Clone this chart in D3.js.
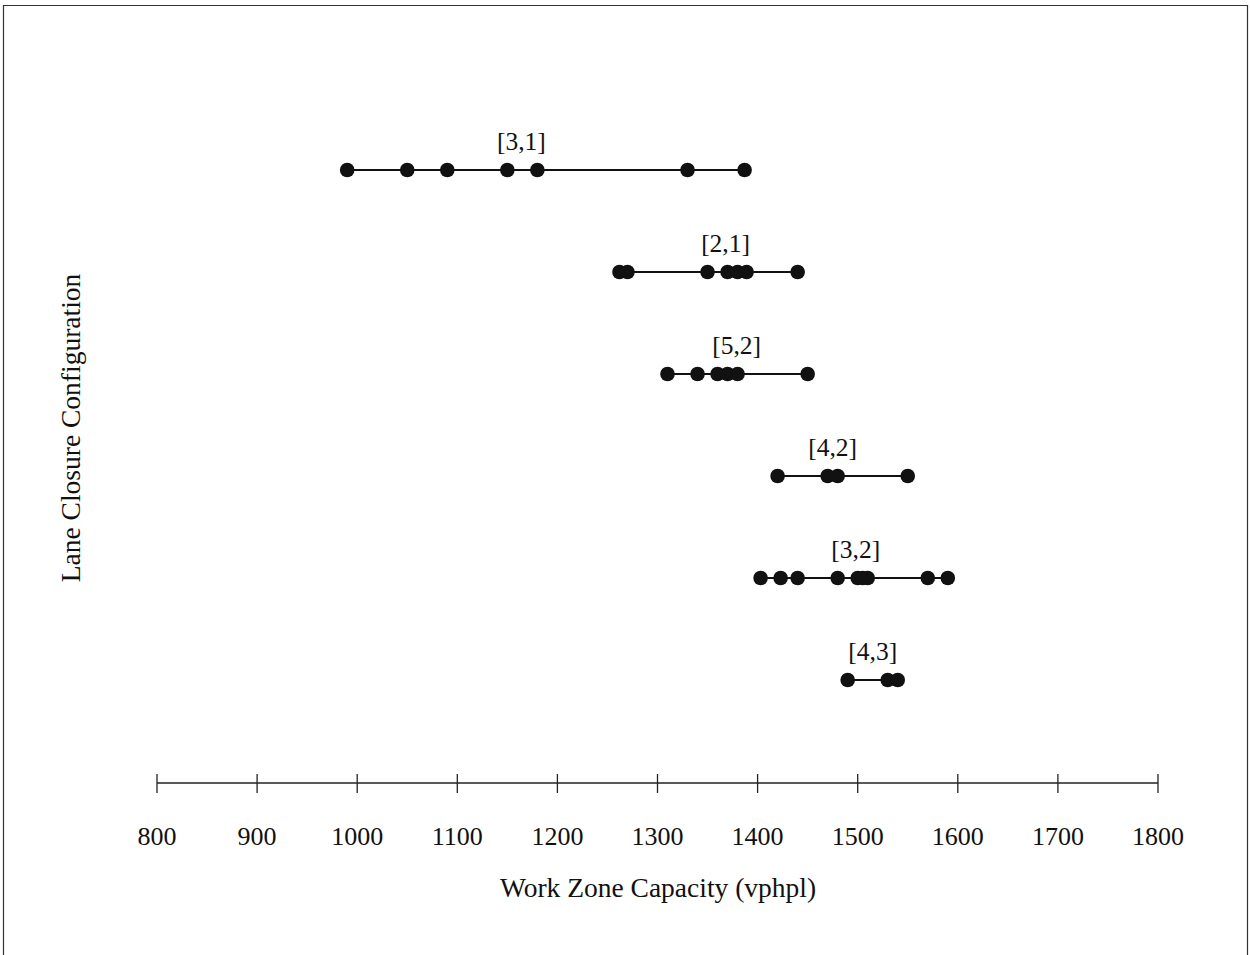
<!DOCTYPE html>
<html>
<head>
<meta charset="utf-8">
<script src="https://cdn.jsdelivr.net/npm/d3@7"></script>
<style>
  html, body { margin: 0; padding: 0; background: #fff; }
  svg { display: block; }
</style>
</head>
<body>
<script>
// lane closure configurations, top to bottom
const configs = ["[3,1]", "[2,1]", "[5,2]", "[4,2]", "[3,2]", "[4,3]"];

// observed work zone capacities (vphpl) for each configuration
const cap31 = [990, 1050, 1090, 1150, 1180, 1330, 1387];
const cap21 = [1262, 1270, 1350, 1370, 1380, 1389, 1440];
const cap52 = [1310, 1340, 1360, 1370, 1380, 1450];
const cap42 = [1420, 1470, 1480, 1550];
const cap32 = [1403, 1423, 1440, 1480, 1500, 1505, 1510, 1570, 1590];
const cap43 = [1490, 1530, 1540];

// where each configuration label sits along the capacity axis
const labelAt = [1164, 1368, 1379, 1475, 1498, 1515];

const xTicks = [800, 900, 1000, 1100, 1200, 1300, 1400, 1500, 1600, 1700, 1800];

const series = [cap31, cap21, cap52, cap42, cap32, cap43];
const rows = configs.map((name, i) => ({name, values: series[i], label: labelAt[i]}));

const width = 1250, height = 955;
const font = "'Liberation Serif', 'Times New Roman', serif";

const x = d3.scaleLinear().domain([800, 1800]).range([157, 1158]);
const y = d3.scalePoint().domain(configs).range([170, 680]);

const svg = d3.select("body").append("svg")
    .attr("width", width)
    .attr("height", height)
    .attr("font-family", font)
    .attr("fill", "#111");

// page frame (scanned figure border)
svg.append("path")
    .attr("d", `M3.5,${height} V5.5 H1247.5 V${height}`)
    .attr("fill", "none")
    .attr("stroke", "#333")
    .attr("stroke-width", 1.2);

// x axis with ticks crossing the line
const axisY = 783;
const axis = svg.append("g").attr("transform", `translate(0,${axisY})`);
axis.append("line")
    .attr("x1", x(800)).attr("x2", x(1800))
    .attr("stroke", "#222").attr("stroke-width", 1.3);
axis.selectAll(".tick")
    .data(xTicks)
    .join("line")
    .attr("x1", d => x(d)).attr("x2", d => x(d))
    .attr("y1", -9).attr("y2", 10)
    .attr("stroke", "#222").attr("stroke-width", 1.3);
axis.selectAll(".tl")
    .data(xTicks)
    .join("text")
    .attr("x", d => x(d))
    .attr("y", 62)
    .attr("text-anchor", "middle")
    .attr("font-size", 26)
    .text(d => d);

svg.append("text")
    .attr("x", x(1300) + 0.5)
    .attr("y", 897)
    .attr("text-anchor", "middle")
    .attr("font-size", 27.5)
    .text("Work Zone Capacity (vphpl)");

svg.append("text")
    .attr("transform", `translate(80,${428}) rotate(-90)`)
    .attr("text-anchor", "middle")
    .attr("font-size", 27.5)
    .text("Lane Closure Configuration");

// one row per configuration: range line, dots, label
const row = svg.selectAll(".row")
    .data(rows)
    .join("g")
    .attr("transform", d => `translate(0,${y(d.name)})`);

row.append("line")
    .attr("x1", d => x(d3.min(d.values)))
    .attr("x2", d => x(d3.max(d.values)))
    .attr("stroke", "#111")
    .attr("stroke-width", 2.2);

row.selectAll("circle")
    .data(d => d.values)
    .join("circle")
    .attr("cx", d => x(d))
    .attr("r", 7.3)
    .attr("fill", "#111");

row.append("text")
    .attr("x", d => x(d.label))
    .attr("y", -20)
    .attr("text-anchor", "middle")
    .attr("font-size", 25.5)
    .text(d => d.name);
</script>
</body>
</html>
